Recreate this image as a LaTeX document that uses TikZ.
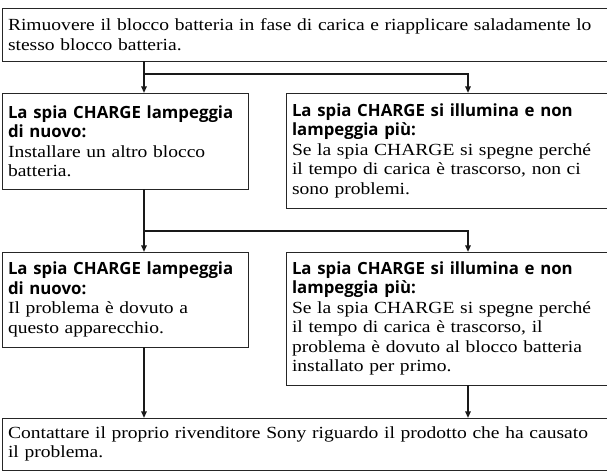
\documentclass[tikz,border=0pt]{standalone}
\usepackage{fontspec}
\setmainfont{Liberation Serif}[FakeStretch=1.15]
\newfontfamily\hdfamily{Open Sans}
\usetikzlibrary{arrows.meta}
\newcommand{\hd}{\hdfamily\bfseries\fontsize{12.6pt}{14.625pt}\selectfont}
\newcommand{\bd}{\rmfamily\mdseries\fontsize{12.75pt}{14.625pt}\selectfont}
\tikzset{
  box/.style={draw=black!85, line width=0.75pt, anchor=north west, outer sep=0pt,
    inner xsep=4.5pt, inner ysep=0pt, align=left, font=\bd},
  conn/.style={draw=black!90, line width=1.7pt, -{Triangle[length=5pt,width=4pt]}}
}
\begin{document}
\begin{tikzpicture}[x=0.75pt,y=-0.75pt]
\useasboundingbox (0,0) rectangle (607,472);
\clip (0,0) rectangle (607,472);
\node[box, text width=447pt, minimum height=39.75pt] (top) at (2,8)
  {Rimuovere il blocco batteria in fase di carica e riapplicare saladamente lo\\stesso blocco batteria.};
\node[box, text width=175.5pt, minimum height=72pt] (L1) at (2,93)
  {{\hd La spia CHARGE lampeggia\\di nuovo:}\\Installare un altro blocco\\batteria.};
\node[box, text width=234pt, minimum height=86.25pt] (R1) at (286,93)
  {{\hd La spia CHARGE si illumina e non\\lampeggia più:}\\Se la spia CHARGE si spegne perché\\il tempo di carica è trascorso, non ci\\sono problemi.};
\node[box, text width=175.5pt, minimum height=71.25pt] (L2) at (2,252)
  {{\hd La spia CHARGE lampeggia\\di nuovo:}\\Il problema è dovuto a\\questo apparecchio.};
\node[box, text width=234pt, minimum height=99.75pt] (R2) at (286,252)
  {{\hd La spia CHARGE si illumina e non\\lampeggia più:}\\Se la spia CHARGE si spegne perché\\il tempo di carica è trascorso, il\\problema è dovuto al blocco batteria\\installato per primo.};
\node[box, text width=447pt, minimum height=39pt] (bot) at (2,418)
  {Contattare il proprio rivenditore Sony riguardo il prodotto che ha causato\\il problema.};
\coordinate (j1) at (144,74);
\coordinate (k1) at (468,74);
\coordinate (j2) at (144,231);
\coordinate (k2) at (468,231);
\draw[conn] (top.south -| j1) -- (L1.north -| j1);
\draw[conn] (j1) -- (k1) -- (R1.north -| k1);
\draw[conn] (L1.south -| j1) -- (L2.north -| j1);
\draw[conn] (j2) -- (k2) -- (R2.north -| k2);
\draw[conn] (L2.south -| j1) -- (bot.north -| j1);
\draw[conn] (R2.south -| k2) -- (bot.north -| k2);
\end{tikzpicture}
\end{document}
